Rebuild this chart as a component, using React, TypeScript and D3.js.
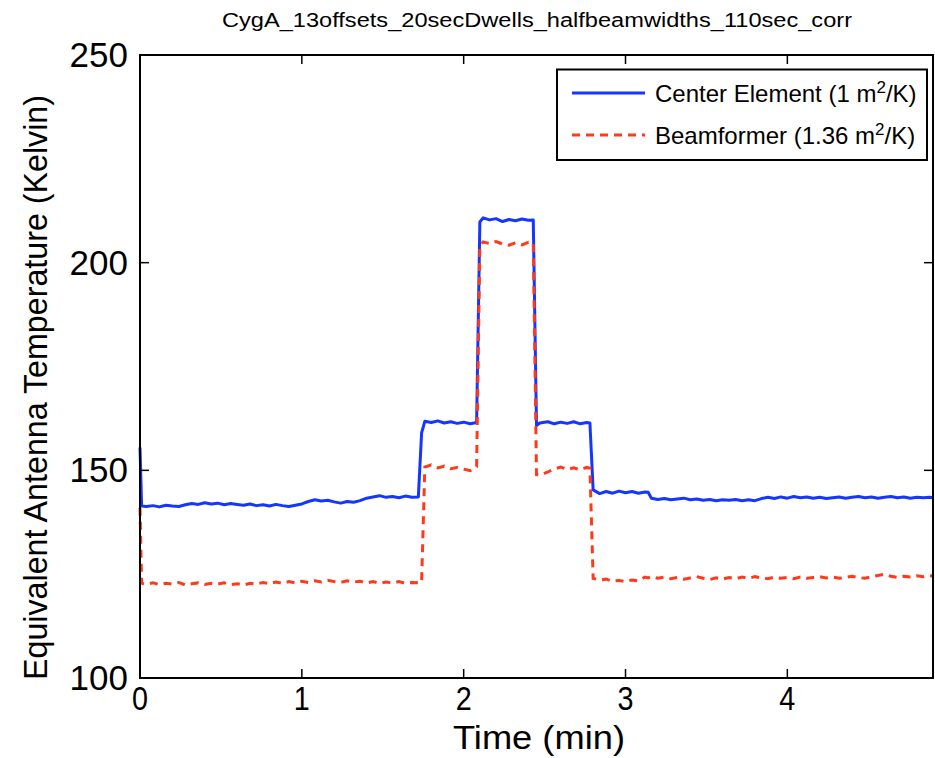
import React from "react";
import * as d3 from "d3";

// time axis (minutes)
const timeMin = [
  0, 0.01, 0.04, 0.08, 0.12, 0.16, 0.2, 0.24, 0.28, 0.32, 0.36, 0.4,
  0.44, 0.48, 0.52, 0.56, 0.6, 0.64, 0.68, 0.72, 0.76, 0.8,
  0.84, 0.88, 0.92, 0.96, 1.0, 1.04, 1.08, 1.12, 1.16, 1.2,
  1.24, 1.28, 1.32, 1.36, 1.4, 1.44, 1.48, 1.52, 1.56, 1.6,
  1.64, 1.68, 1.72,
  1.74, 1.76,
  1.8, 1.84, 1.88, 1.92, 1.96, 2.0, 2.04, 2.08,
  2.1, 2.12, 2.16, 2.2, 2.24, 2.28, 2.32, 2.36, 2.4, 2.43,
  2.45, 2.47, 2.52, 2.56, 2.6, 2.64, 2.68, 2.72, 2.76, 2.78,
  2.8, 2.84, 2.88, 2.92, 2.96, 3.0, 3.04, 3.08, 3.12, 3.14,
  3.16,
  3.2, 3.24, 3.28, 3.32, 3.36, 3.4, 3.44, 3.48, 3.52, 3.56,
  3.6, 3.64, 3.68, 3.72, 3.76, 3.8, 3.84, 3.88, 3.92, 3.96,
  4.0, 4.04, 4.08, 4.12, 4.16, 4.2, 4.24, 4.28, 4.32, 4.36,
  4.4, 4.44, 4.48, 4.52, 4.56, 4.6, 4.64, 4.68, 4.72, 4.76,
  4.8, 4.84, 4.88,
  4.9,
];

// Center Element (1 m^2/K)
const centerElement = [
  155.5, 141.4, 141.3, 141.5, 141.2, 141.6, 141.4, 141.3, 141.7, 142.0, 141.8, 142.2,
  141.9, 142.1, 141.7, 142.0, 141.8, 141.6, 141.9, 141.5, 141.7, 141.4,
  141.8, 141.5, 141.3, 141.6, 141.9, 142.5, 142.9, 142.6, 142.8, 142.4,
  142.1, 142.5, 142.3, 142.7, 143.3, 143.6, 143.9, 143.5, 143.7, 143.4,
  143.8, 143.5, 143.6,
  159.0, 161.8,
  161.5, 161.9, 161.4, 161.7, 161.3, 161.6, 161.2, 161.5,
  209.8, 210.8, 210.3, 210.6, 209.9, 210.4, 210.1, 210.5, 210.2, 210.3,
  160.8, 161.4, 161.7, 161.2, 161.6, 161.3, 161.7, 161.2, 161.5, 161.4,
  145.3, 144.4, 144.9, 144.5, 145.0, 144.6, 144.9, 144.5, 144.8, 144.7,
  143.3,
  143.0, 143.2, 142.9, 143.1, 143.3, 142.9, 143.1, 142.8, 143.0, 142.7,
  142.9, 142.8, 143.0, 142.7, 142.9, 142.7, 143.2, 143.5, 143.2, 143.6,
  143.3, 143.7, 143.4, 143.6, 143.3, 143.5, 143.2, 143.4, 143.6, 143.3,
  143.5, 143.7, 143.4, 143.6, 143.3, 143.5, 143.7, 143.4, 143.6, 143.3,
  143.5, 143.4, 143.5,
  143.4,
];

// Beamformer (1.36 m^2/K)
const beamformer = [
  141.0, 122.8, 122.6, 122.9, 122.5, 122.8, 122.6, 123.0, 122.4, 122.7, 122.9, 122.5,
  122.8, 122.6, 122.9, 122.5, 122.7, 122.4, 122.8, 122.6, 123.0, 122.7,
  123.1, 122.8, 123.2, 122.9, 123.3, 123.0, 123.4, 123.1, 123.5, 123.2,
  123.0, 123.4, 123.1, 123.3, 122.9, 123.2, 122.8, 123.1, 122.9, 123.2,
  122.8, 123.0, 122.9,
  123.0, 150.8,
  151.3, 150.6, 151.0, 150.4, 150.7, 150.3, 149.9, 150.9,
  204.0, 205.0, 204.6, 205.1, 204.5, 204.2, 204.8, 204.3, 204.9, 204.7,
  149.0, 148.8, 149.6, 150.3, 150.8, 150.2, 150.6, 150.1, 150.7, 150.5,
  124.0, 123.6, 123.8, 123.3, 123.5, 123.2, 123.6, 123.4, 124.3, 124.1,
  124.4,
  124.0, 124.3, 123.9, 124.2, 123.8, 124.1, 124.4, 124.0, 123.7, 124.1,
  123.8, 124.2, 123.9, 124.3, 124.0, 124.4, 124.1, 123.9, 124.3, 124.0,
  124.2, 123.9, 124.3, 124.0, 124.2, 124.4, 124.1, 124.3, 124.0, 124.2,
  124.5, 124.2, 124.0, 124.4, 124.7, 125.0, 124.5, 124.2, 124.5, 124.3,
  124.6, 124.4, 124.7,
  124.5,
];

const xTicks = [0, 1, 2, 3, 4];
const yTicks = [100, 150, 200, 250];

const titleText = "CygA_13offsets_20secDwells_halfbeamwidths_110sec_corr";
const blue = "#1436ff";
const red = "#ff3a1c";
const font = "'Liberation Sans', Arial, Helvetica, sans-serif";

const App = () => {
  const left = 140, right = 933, top = 55, bottom = 678;
  const x = d3.scaleLinear().domain([0, 4.9]).range([left, right]);
  const y = d3.scaleLinear().domain([100, 250]).range([bottom, top]);

  const line = d3
    .line<number>()
    .x((d, i) => x(timeMin[i]))
    .y((d) => y(d));

  const tickLen = 9;

  return (
    <svg
      width={935}
      height={758}
      style={{ position: "absolute", left: 0, top: 0, background: "#fff" }}
      fontFamily={font}
    >
      <rect x={0} y={0} width={935} height={758} fill="#fff" />

      {/* title */}
      <text x={537} y={27} fontSize={20} textAnchor="middle" textLength={630} lengthAdjust="spacingAndGlyphs">
        {titleText}
      </text>

      {/* data lines */}
      <path d={line(centerElement) || ""} fill="none" stroke={blue} strokeWidth={3} strokeLinejoin="round" />
      <path d={line(beamformer) || ""} fill="none" stroke={red} strokeWidth={3} strokeDasharray="8,6" />

      {/* axes box */}
      <rect x={left} y={top} width={right - left} height={bottom - top} fill="none" stroke="#000" strokeWidth={2} />

      {xTicks.map((t) => (
        <g key={"x" + t}>
          <line x1={x(t)} x2={x(t)} y1={bottom} y2={bottom - tickLen} stroke="#000" strokeWidth={1.5} />
          <line x1={x(t)} x2={x(t)} y1={top} y2={top + tickLen} stroke="#000" strokeWidth={1.5} />
          <text x={x(t)} y={710} fontSize={33} textAnchor="middle" textLength={16} lengthAdjust="spacingAndGlyphs">
            {t}
          </text>
        </g>
      ))}

      {yTicks.map((v) => (
        <g key={"y" + v}>
          <line x1={left} x2={left + tickLen} y1={y(v)} y2={y(v)} stroke="#000" strokeWidth={1.5} />
          <line x1={right} x2={right - tickLen} y1={y(v)} y2={y(v)} stroke="#000" strokeWidth={1.5} />
          <text x={128} y={y(v) + 12} fontSize={35} textAnchor="end">
            {v}
          </text>
        </g>
      ))}

      {/* axis labels */}
      <text x={539} y={749} fontSize={33} textAnchor="middle" textLength={172} lengthAdjust="spacingAndGlyphs">
        Time (min)
      </text>
      <text
        transform="translate(47,387.5) rotate(-90)"
        fontSize={34}
        textAnchor="middle"
        textLength={585}
        lengthAdjust="spacingAndGlyphs"
      >
        Equivalent Antenna Temperature (Kelvin)
      </text>

      {/* legend */}
      <g>
        <rect x={557} y={69.5} width={370} height={90.5} fill="#fff" stroke="#000" strokeWidth={2} />
        <line x1={572} x2={645} y1={93} y2={93} stroke={blue} strokeWidth={3} />
        <line x1={572} x2={645} y1={135} y2={135} stroke={red} strokeWidth={3} strokeDasharray="8,6" />
        <text x={655} y={102} fontSize={24}>
          Center Element (1 m<tspan dy={-9} fontSize={17}>2</tspan>
          <tspan dy={9}>/K)</tspan>
        </text>
        <text x={655} y={144} fontSize={24}>
          Beamformer (1.36 m<tspan dy={-9} fontSize={17}>2</tspan>
          <tspan dy={9}>/K)</tspan>
        </text>
      </g>
    </svg>
  );
};

export default App;
